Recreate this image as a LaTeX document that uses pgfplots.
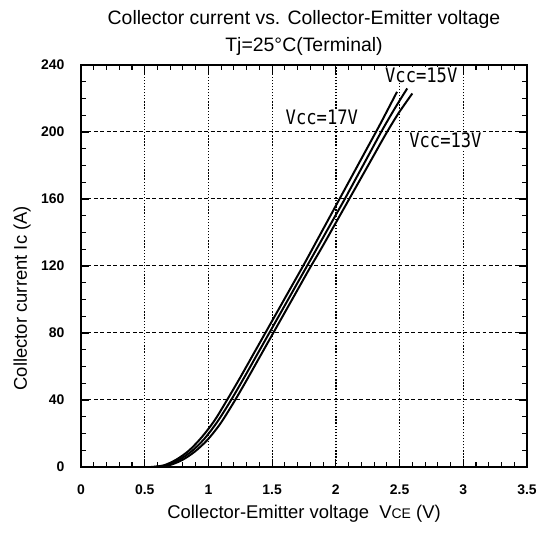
\documentclass[border=0pt]{standalone}
\usepackage{pgfplots}
\pgfplotsset{compat=1.18}
\usepackage{fontspec}
\setmainfont{Liberation Sans}
\newfontfamily\vccfont{DejaVu Sans Mono}

\begin{document}
\begin{tikzpicture}[x=1bp,y=1bp]
\path[use as bounding box] (0,0) rectangle (542,533);
\begin{axis}[
    at={(81bp,66bp)}, anchor=south west,
    scale only axis,
    width=446bp, height=402bp,
    xmin=0, xmax=3.5,
    ymin=0, ymax=240,
    xtick={0,0.5,...,3.5},
    ytick={0,40,...,240},
    xticklabels={0,0.5,1,1.5,2,2.5,3,3.5},
    minor x tick num=4,
    minor y tick num=3,
    tick align=inside,
    xtick pos=both, ytick pos=both,
    major tick length=8bp, minor tick length=5bp,
    every tick/.style={black, line width=1.1pt},
    axis line style={line width=1.8pt},
    /pgf/number format/assume math mode=true,
    tick label style={font=\fontsize{14}{16}\selectfont\bfseries},
    xticklabel style={yshift=-14bp},
    yticklabel style={xshift=-13bp},
    xmajorgrids=true, ymajorgrids=true,
    x grid style={black, line width=1.3pt, dash pattern=on 1.3pt off 1.8pt},
    y grid style={black, line width=1pt, dash pattern=on 4pt off 2.5pt},
    title={Collector current vs. Collector-Emitter voltage\\Tj=25\textdegree C(Terminal)},
    title style={font=\fontsize{19.5}{27}\selectfont, align=center,
        at={(axis description cs:0.5,1)}, anchor=south, yshift=0bp},
    xlabel={Collector-Emitter voltage\ \ V{\fontsize{14}{16}\selectfont CE} (V)},
    xlabel style={font=\fontsize{18.5}{20}\selectfont,
        at={(axis description cs:0.5,-0.117)}, anchor=center},
    ylabel={Collector current Ic (A)},
    ylabel style={font=\fontsize{18.5}{20}\selectfont,
        at={(axis description cs:-0.132,0.42)}, anchor=center},
    clip mode=individual,
]

% Vcc=17V
\addplot[black, line width=2pt, smooth, no markers] coordinates {
    (0.55,0)(0.65,1)(0.75,4.5)(0.85,10)(0.95,18)(1.05,28)(1.15,40.5)
    (1.25,53.5)(1.35,67)(1.45,80.5)(1.55,94)(1.65,107.5)(1.75,121)
    (1.85,135)(1.95,149)(2.05,163)(2.15,177)(2.25,191)(2.35,205)(2.48,224)
};
% Vcc=15V
\addplot[black, line width=2pt, smooth, no markers] coordinates {
    (0.57,0)(0.67,1)(0.77,4.3)(0.87,9.5)(0.97,17)(1.07,27)(1.17,39)
    (1.27,52)(1.37,65.5)(1.47,79)(1.57,92.5)(1.67,106)(1.77,119.5)
    (1.87,133)(1.97,146.5)(2.07,160)(2.17,174)(2.27,188)(2.37,202)
    (2.47,215)(2.56,226)
};
% Vcc=13V
\addplot[black, line width=2pt, smooth, no markers] coordinates {
    (0.59,0)(0.69,1)(0.79,4)(0.89,9)(0.99,16)(1.09,25.5)(1.19,37.5)
    (1.29,50.5)(1.39,64)(1.49,77.5)(1.59,91)(1.69,104.5)(1.79,118)
    (1.89,131)(1.99,144.5)(2.09,158)(2.19,171.5)(2.29,185)(2.39,198.5)
    (2.49,211)(2.60,223)
};

\node[fill=white, inner sep=1pt, font=\vccfont\fontsize{20}{22}\selectfont, xscale=0.86]
    at (axis cs:2.67,234) {Vcc=15V};
\node[fill=white, inner sep=1pt, font=\vccfont\fontsize{20}{22}\selectfont, xscale=0.86]
    at (axis cs:1.89,209) {Vcc=17V};
\node[fill=white, inner sep=1pt, font=\vccfont\fontsize{20}{22}\selectfont, xscale=0.86]
    at (axis cs:2.86,195) {Vcc=13V};
\end{axis}
\end{tikzpicture}
\end{document}
